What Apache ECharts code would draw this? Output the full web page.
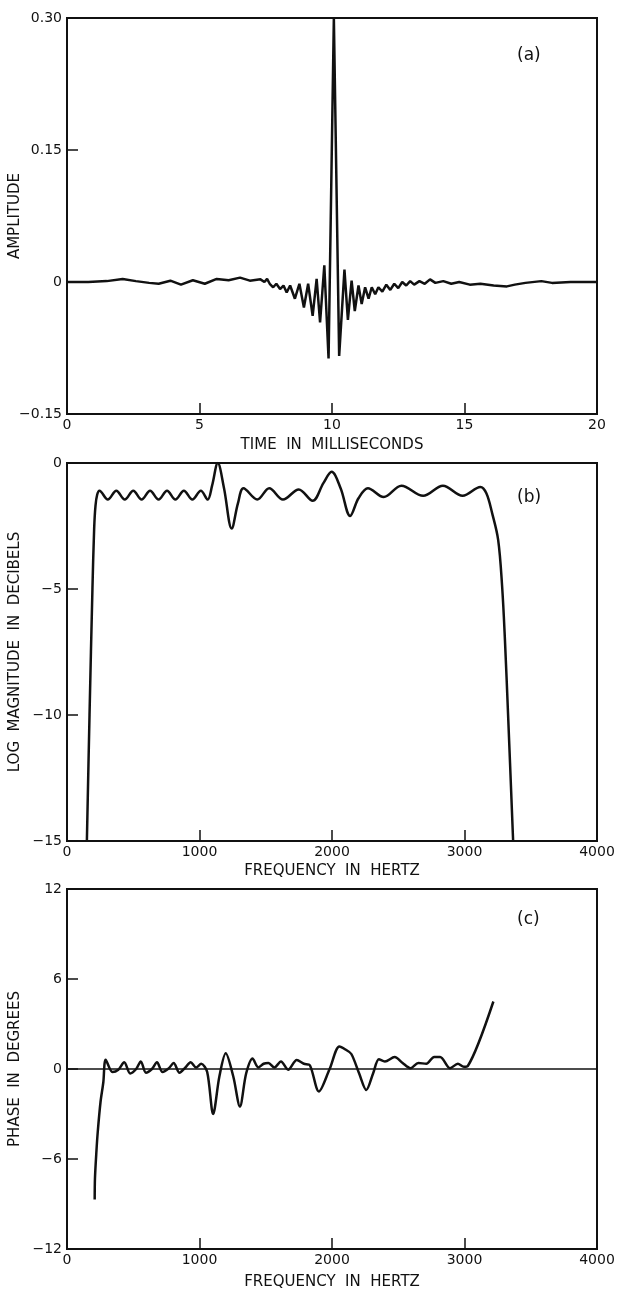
<!DOCTYPE html>
<html>
<head>
<meta charset="utf-8">
<script src="https://cdn.jsdelivr.net/npm/echarts@6/dist/echarts.min.js"></script>
<style>
  html, body { margin: 0; padding: 0; background: #fff; }
  #chart { width: 617px; height: 1291px; }
</style>
</head>
<body>
<div id="chart"></div>
<script>
// ---------- DATA ----------
// Panel (a): impulse response, [time in ms, amplitude]
const impulsePoints = [
  [0, 0], [0.8, 0], [1.5, 0.001], [2.1, 0.0035], [2.6, 0.001], [3.1, -0.001], [3.46, -0.002],
  [3.9, 0.0015], [4.3, -0.003], [4.75, 0.002], [5.2, -0.002], [5.65, 0.0035], [6.1, 0.002],
  [6.53, 0.005], [6.9, 0.0015], [7.3, 0.003], [7.45, 0.0], [7.55, 0.0035], [7.65, -0.002],
  [7.78, -0.006], [7.9, -0.002], [8.04, -0.008], [8.17, -0.004], [8.29, -0.012], [8.42, -0.004],
  [8.6, -0.019], [8.77, -0.002], [8.94, -0.029], [9.1, -0.002], [9.27, -0.0385], [9.42, 0.0035],
  [9.55, -0.046], [9.71, 0.019], [9.87, -0.087], [10.07, 0.30], [10.27, -0.084], [10.47, 0.014],
  [10.6, -0.043], [10.74, 0.0015], [10.86, -0.033], [11.0, -0.004], [11.12, -0.025], [11.25, -0.006],
  [11.38, -0.019], [11.5, -0.006], [11.63, -0.014], [11.75, -0.006], [11.9, -0.011], [12.05, -0.003],
  [12.2, -0.009], [12.35, -0.002], [12.5, -0.007], [12.65, 0.0], [12.8, -0.004], [12.95, 0.001],
  [13.1, -0.003], [13.3, 0.001], [13.5, -0.002], [13.7, 0.003], [13.9, -0.001], [14.2, 0.001],
  [14.5, -0.002], [14.8, 0], [15.2, -0.003], [15.6, -0.002], [16.1, -0.004], [16.6, -0.005],
  [16.9, -0.003], [17.3, -0.001], [17.9, 0.001], [18.3, -0.001], [19.0, 0], [20, 0]
];

// Panel (b): log magnitude, [frequency in Hz, dB]
const magnitudePoints = [
  [150, -15], [170, -10], [192, -5], [205, -2.6], [215, -1.7], [228, -1.25], [245, -1.1],
  [308, -1.45], [372, -1.1], [436, -1.45], [500, -1.1], [563, -1.45], [627, -1.1], [691, -1.45],
  [755, -1.1], [818, -1.45], [882, -1.1], [946, -1.45], [1010, -1.1], [1062, -1.45], [1095, -0.9],
  [1138, 0], [1185, -1.0], [1243, -2.6], [1290, -1.6], [1332, -1.0], [1436, -1.45], [1526, -1.0],
  [1630, -1.45], [1749, -1.05], [1854, -1.5], [1935, -0.8], [1997, -0.35], [2065, -1.0],
  [2137, -2.1], [2200, -1.4], [2271, -1.0], [2390, -1.35], [2524, -0.9], [2688, -1.3],
  [2837, -0.9], [2986, -1.3], [3120, -0.95], [3165, -1.2], [3209, -2.0], [3254, -3.05],
  [3284, -4.9], [3305, -7.0], [3329, -10], [3367, -15]
];

// Panel (c): phase, [frequency in Hz, degrees]
const phasePoints = [
  [209, -8.7], [211, -7.3], [222, -5.5], [232, -4.2], [253, -2.2], [274, -0.9], [292, 0.62],
  [343, -0.2], [387, -0.05], [432, 0.45], [477, -0.3], [522, 0.0], [557, 0.5], [596, -0.25],
  [641, 0.0], [679, 0.45], [721, -0.2], [769, 0.05], [805, 0.4], [849, -0.25], [894, 0.1],
  [933, 0.45], [974, 0.1], [1013, 0.35], [1058, -0.2], [1103, -3.0], [1150, -0.5], [1198, 1.05],
  [1255, -0.5], [1305, -2.5], [1352, -0.3], [1400, 0.7], [1445, 0.1], [1484, 0.35], [1520, 0.4],
  [1565, 0.1], [1615, 0.5], [1669, -0.05], [1734, 0.6], [1788, 0.35], [1833, 0.25], [1901, -1.5],
  [1982, 0.0], [2056, 1.5], [2101, 1.3], [2146, 1.0], [2205, -0.3], [2259, -1.4], [2310, -0.3],
  [2354, 0.65], [2399, 0.5], [2473, 0.8], [2533, 0.4], [2593, 0.05], [2652, 0.4], [2712, 0.35],
  [2771, 0.8], [2816, 0.8], [2891, 0.05], [2950, 0.35], [2995, 0.15], [3025, 0.2], [3218, 4.5]
];

const xLabelsA = ['0', '5', '10', '15', '20'];
const xLabelsF = ['0', '1000', '2000', '3000', '4000'];
const yLabelsA = ['\u22120.15', '0', '0.15', '0.30'];
const yLabelsB = ['\u221215', '\u221210', '\u22125', '0'];
const yLabelsC = ['\u221212', '\u22126', '0', '6', '12'];

const panelTags = ['(a)', '(b)', '(c)'];
const xTitles = ['TIME  IN  MILLISECONDS', 'FREQUENCY  IN  HERTZ', 'FREQUENCY  IN  HERTZ'];
const yTitles = ['AMPLITUDE', 'LOG  MAGNITUDE  IN  DECIBELS', 'PHASE  IN  DEGREES'];

// ---------- CHART ----------
const FONT = 'DejaVu Sans';
const INK = '#111';

function xAxisCfg(idx, min, max, interval, labels, gap) {
  return {
    gridIndex: idx, type: 'value', min: min, max: max, interval: interval,
    name: xTitles[idx], nameLocation: 'middle', nameGap: gap, nameMoveOverlap: false,
    nameTextStyle: { color: INK, fontSize: 15, fontFamily: FONT },
    axisLine: { show: true, onZero: false, lineStyle: { color: INK, width: 2 } },
    axisTick: { show: true, inside: true, length: 11, lineStyle: { color: INK, width: 1.5 } },
    axisLabel: { color: INK, fontSize: 14, fontFamily: FONT, margin: 4,
      formatter: function (v, i) { return labels[i]; } },
    splitLine: { show: false }
  };
}
function yAxisCfg(idx, min, max, interval, labels, gap) {
  return {
    gridIndex: idx, type: 'value', min: min, max: max, interval: interval,
    name: yTitles[idx], nameLocation: 'middle', nameGap: gap, nameRotate: 90, nameMoveOverlap: false,
    nameTextStyle: { color: INK, fontSize: 15, fontFamily: FONT },
    axisLine: { show: true, onZero: false, lineStyle: { color: INK, width: 2 } },
    axisTick: { show: true, inside: true, length: 11, lineStyle: { color: INK, width: 1.5 } },
    axisLabel: { color: INK, fontSize: 14, fontFamily: FONT, margin: 5,
      formatter: function (v, i) { return labels[i]; } },
    splitLine: { show: false }
  };
}

const gridBase = { show: true, borderColor: INK, borderWidth: 2, backgroundColor: 'transparent',
  left: 67, width: 530, containLabel: false, outerBoundsMode: 'none' };

const tagStyle = { color: INK, fontSize: 17, fontWeight: 'normal', fontFamily: FONT };

const chart = echarts.init(document.getElementById('chart'), null, { renderer: 'canvas' });
chart.setOption({
  backgroundColor: '#fff',
  animation: false,
  title: [
    { text: panelTags[0], left: 512, top: 42, textStyle: tagStyle },
    { text: panelTags[1], left: 512, top: 484, textStyle: tagStyle },
    { text: panelTags[2], left: 512, top: 906, textStyle: tagStyle }
  ],
  grid: [
    Object.assign({}, gridBase, { top: 18, height: 396 }),
    Object.assign({}, gridBase, { top: 463, height: 378 }),
    Object.assign({}, gridBase, { top: 889, height: 360 })
  ],
  xAxis: [
    xAxisCfg(0, 0, 20, 5, xLabelsA, 24),
    xAxisCfg(1, 0, 4000, 1000, xLabelsF, 23),
    xAxisCfg(2, 0, 4000, 1000, xLabelsF, 26)
  ],
  yAxis: [
    yAxisCfg(0, -0.15, 0.30, 0.15, yLabelsA, 44),
    yAxisCfg(1, -15, 0, 5, yLabelsB, 44),
    yAxisCfg(2, -12, 12, 6, yLabelsC, 44)
  ],
  series: [
    { type: 'line', xAxisIndex: 0, yAxisIndex: 0, data: impulsePoints, showSymbol: false,
      lineStyle: { color: INK, width: 2.5 }, smooth: false },
    { type: 'line', xAxisIndex: 1, yAxisIndex: 1, data: magnitudePoints, showSymbol: false,
      lineStyle: { color: INK, width: 2.5 }, smooth: 0.35 },
    { type: 'line', xAxisIndex: 2, yAxisIndex: 2, data: phasePoints, showSymbol: false,
      lineStyle: { color: INK, width: 2.5 }, smooth: 0.3,
      markLine: { silent: true, symbol: 'none', label: { show: false },
        lineStyle: { color: INK, width: 1.5, type: 'solid' }, data: [{ yAxis: 0 }] } }
  ]
});
</script>
</body>
</html>
